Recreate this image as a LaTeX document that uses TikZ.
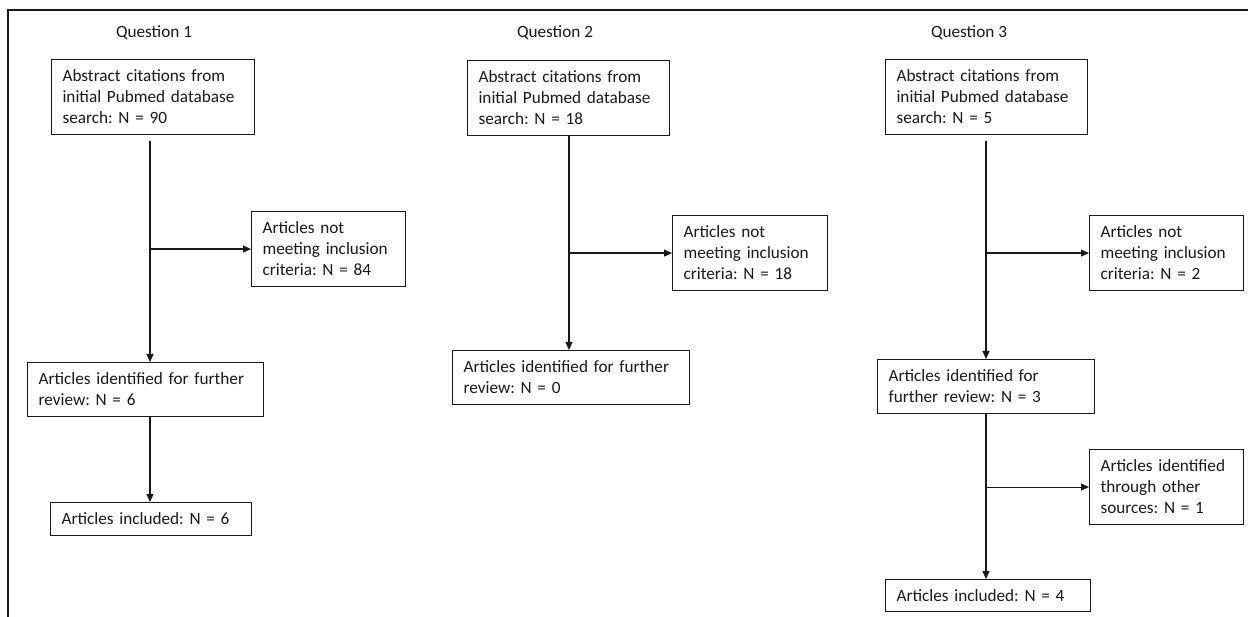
\documentclass[tikz,border=0pt]{standalone}
\usepackage{fontspec}
\setmainfont{Carlito}
\usetikzlibrary{arrows.meta}
\frenchspacing

\begin{document}
\begin{tikzpicture}[x=1pt, y=-1pt, >={Triangle[length=8pt, width=7pt]},
    line width=1.1pt, color=black!90, font=\fontsize{17.2}{21}\selectfont,
    stage/.style={draw, anchor=north west, align=left, inner xsep=11pt, inner ysep=0pt}]

    \useasboundingbox (0,0) rectangle (1248,617);

    % Marco exterior (solo arriba e izquierda)
    \draw (8,617) -- (8,10) -- (1248,10);

    % Encabezados de las tres preguntas
    \node (Q1) at (154,33) {Question 1};
    \node (Q2) at (555,33) {Question 2};
    \node (Q3) at (969,33) {Question 3};

    % Question 1
    \node[stage, text width=181pt, minimum height=75pt] (A1) at (51,59) {Abstract citations from\\initial Pubmed database\\search: N = 90};
    \node[stage, text width=132pt, minimum height=75pt] (C1) at (251,211) {Articles not\\meeting inclusion\\criteria: N = 84};
    \node[stage, text width=214pt, minimum height=54pt] (B1) at (27,362) {Articles identified for further\\review: N = 6};
    \node[stage, text width=179pt, minimum height=33pt] (D1) at (50,502) {Articles included: N = 6};

    % Question 2
    \node[stage, text width=180pt, minimum height=75pt] (A2) at (467,60) {Abstract citations from\\initial Pubmed database\\search: N = 18};
    \node[stage, text width=133pt, minimum height=75pt] (C2) at (672,215) {Articles not\\meeting inclusion\\criteria: N = 18};
    \node[stage, text width=215pt, minimum height=54pt] (B2) at (452,350) {Articles identified for further\\review: N = 0};

    % Question 3
    \node[stage, text width=180pt, minimum height=75pt] (A3) at (885,59) {Abstract citations from\\initial Pubmed database\\search: N = 5};
    \node[stage, text width=132pt, minimum height=75pt] (C3) at (1089,215) {Articles not\\meeting inclusion\\criteria: N = 2};
    \node[stage, text width=195pt, minimum height=54pt] (B3) at (877,359) {Articles identified for\\further review: N = 3};
    \node[stage, text width=132pt, minimum height=75pt] (C4) at (1089,449) {Articles identified\\through other\\sources: N = 1};
    \node[stage, text width=183pt, minimum height=32pt] (D3) at (885,579) {Articles included: N = 4};

    % Ejes verticales de cada columna
    \coordinate (s1) at (150,141);
    \coordinate (s2) at (569,135);
    \coordinate (s3) at (986,141);

    \path[->]
    % Question 1
    (s1) edge (s1 |- B1.north)
    (s1 |- C1.west) edge (C1.west)
    (s1 |- B1.south) edge (s1 |- D1.north)

    % Question 2
    (s2) edge (s2 |- B2.north)
    (s2 |- C2.west) edge (C2.west)

    % Question 3
    (s3) edge (s3 |- B3.north)
    (s3 |- C3.west) edge (C3.west)
    (s3 |- B3.south) edge (s3 |- D3.north)
    (s3 |- C4.west) edge (C4.west);
\end{tikzpicture}
\end{document}
